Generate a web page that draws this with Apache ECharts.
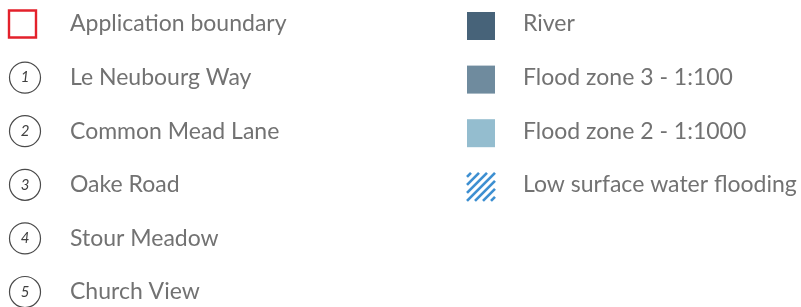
<!DOCTYPE html>
<html><head><meta charset="utf-8">
<script src="https://cdn.jsdelivr.net/npm/echarts@6/dist/echarts.min.js"></script>
<style>html,body{margin:0;padding:0;background:#fff}#c{width:801px;height:307px}</style>
</head><body><div id="c"></div>
<script>
var leftLabels = ['Application boundary','Le Neubourg Way','Common Mead Lane','Oake Road','Stour Meadow','Church View'];
var leftMarkers = ['box','1','2','3','4','5'];
var rightLabels = ['River','Flood zone 3 - 1:100','Flood zone 2 - 1:1000','Low surface water flooding'];
var rightFills = ['#476379','#6f8b9e','#94bdcf','hatch'];

var chart = echarts.init(document.getElementById('c'), null, {renderer:'canvas'});
var FONT = 'Lato, "Open Sans", sans-serif';
var TEXTC = '#727272';
var rowY = function(i){ return 24 + i*53.6; };
var els = [];
leftLabels.forEach(function(lab,i){
  var y = rowY(i), m = leftMarkers[i];
  if (m === 'box') {
    els.push({type:'rect', shape:{x:9,y:y-13.5,width:27,height:27}, style:{fill:'#fff',stroke:'#e3212b',lineWidth:2.4}});
  } else {
    els.push({type:'circle', shape:{cx:25,cy:y,r:15.5}, style:{fill:'#fff',stroke:'#4a4a4a',lineWidth:1.2}});
    els.push({type:'text', x:25, y:y, style:{text:m, fill:'#3f3f3f', font:'italic 15px '+FONT, align:'center', verticalAlign:'middle'}});
  }
  els.push({type:'text', x:70, y:y, style:{text:lab, fill:TEXTC, font:'23px '+FONT, verticalAlign:'middle'}});
});
rightLabels.forEach(function(lab,i){
  var y = rowY(i)+2, f = rightFills[i];
  var x0=467, s=28, y0=y-14;
  if (f === 'hatch') {
    var d = 8;
    for (var c = x0+y0+4; c < x0+y0+2*s; c += d) {
      var xa = Math.max(x0, c-(y0+s)), xb = Math.min(x0+s, c-y0);
      if (xb - xa < 1) continue;
      els.push({type:'line', shape:{x1:xa,y1:c-xa,x2:xb,y2:c-xb}, style:{stroke:'#3d8fd1',lineWidth:2.6}});
    }
  } else {
    els.push({type:'rect', shape:{x:x0,y:y0,width:s,height:s}, style:{fill:f}});
  }
  els.push({type:'text', x:523, y:rowY(i), style:{text:lab, fill:TEXTC, font:'23px '+FONT, verticalAlign:'middle'}});
});
chart.setOption({animation:false, backgroundColor:'#fff', graphic:{elements:els}});
</script></body></html>
